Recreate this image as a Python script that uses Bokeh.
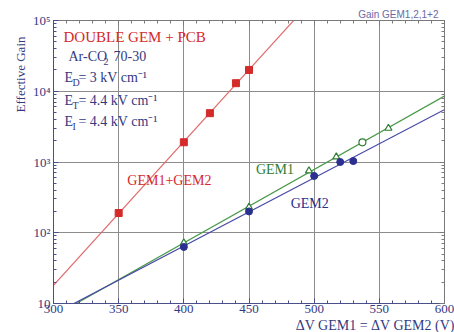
import numpy as np
from bokeh.plotting import figure
from bokeh.models import (Label, LogAxis, LinearAxis, SingleIntervalTicker, LogTicker,
                          CustomJSTickFormatter, Range1d, Title)
from bokeh.embed import file_html
from bokeh.resources import INLINE

# ---------------- data ----------------
gem12_dv = [350, 400, 420, 440, 450]
gem12_gain = [190, 1900, 4900, 13000, 20000]

gem1_dv = [400, 450, 496, 517, 537, 557]
gem1_gain = [72, 230, 750, 1180, 1900, 3000]
gem1_marker = ["triangle", "triangle", "triangle", "triangle", "circle", "triangle"]

gem2_dv = [400, 450, 500, 520, 530]
gem2_gain = [63, 200, 635, 1000, 1030]

x_tick_values = [300, 350, 400, 450, 500, 550, 600]
y_tick_values = [10, 100, 1000, 10000, 100000]

SERIF = "Liberation Serif"
NAVY = "#33397f"
RED = "#d42a2a"
GREEN = "#2f7d35"
BLUE = "#2b2f8f"


def fit_line(v, g):
    slope, icpt = np.polyfit(np.array(v, float), np.log10(np.array(g, float)), 1)
    vv = np.array([280.0, 620.0])
    return vv, 10 ** (icpt + slope * vv)


p = figure(width=454, height=332, x_range=Range1d(300, 600), y_range=Range1d(10, 1e5),
           y_axis_type="log", output_backend="svg", toolbar_location=None,
           min_border_left=53, min_border_right=10, min_border_top=20, min_border_bottom=14,
           background_fill_color="white", border_fill_color="white")
p.outline_line_color = "#7a7a7a"

xt = SingleIntervalTicker(interval=50, num_minor_ticks=5)
yt = LogTicker(num_minor_ticks=10)
p.xaxis.ticker = xt
p.yaxis.ticker = yt
p.yaxis.formatter = CustomJSTickFormatter(code="""
const e = Math.round(Math.log10(tick));
const s = {1:'', 2:'\u00b2', 3:'\u00b3', 4:'\u2074', 5:'\u2075'};
return e == 1 ? '10' : '10' + s[e];
""")

for ax in (p.xaxis[0], p.yaxis[0]):
    ax.major_tick_in = 5
    ax.major_tick_out = 0
    ax.minor_tick_in = 3
    ax.minor_tick_out = 0
    ax.axis_line_color = "#4a4f8a"
    ax.major_tick_line_color = "#4a4f8a"
    ax.minor_tick_line_color = "#4a4f8a"
    ax.major_label_text_font = SERIF
    ax.major_label_text_color = NAVY
p.xaxis.major_label_text_font_size = "13px"
p.yaxis.major_label_text_font_size = "13px"
p.xaxis.major_label_standoff = 1
p.yaxis.major_label_standoff = 3

# mirror axes (ticks only, no labels)
blank = CustomJSTickFormatter(code="return '';")
ra = LogAxis(ticker=yt, formatter=blank, major_label_text_color=None, major_tick_in=5,
             major_tick_out=0, minor_tick_in=3, minor_tick_out=0, axis_line_color="#7a7a7a",
             major_tick_line_color="#7a7a7a", minor_tick_line_color="#7a7a7a",
             major_label_standoff=0)
ta = LinearAxis(ticker=xt, formatter=blank, major_label_text_color=None, major_tick_in=5,
                major_tick_out=0, minor_tick_in=3, minor_tick_out=0, axis_line_color="#7a7a7a",
                major_tick_line_color="#7a7a7a", minor_tick_line_color="#7a7a7a",
                major_label_standoff=0)
p.add_layout(ra, "right")
p.add_layout(ta, "above")

p.xgrid.ticker = xt
p.ygrid.ticker = yt
p.xgrid.grid_line_color = "#8c8c8c"
p.ygrid.grid_line_color = "#8c8c8c"

# top-right caption, y-axis title and x-axis title as Titles in the side panels
p.title.text = "Gain GEM1,2,1+2"
p.title.align = "right"
p.title.offset = 6
p.title.standoff = 1
p.title.text_font = "Liberation Sans"
p.title.text_font_size = "10px"
p.title.text_font_style = "normal"
p.title.text_color = "#6a6aa6"

p.add_layout(Title(text="Effective Gain", align="right", offset=16, standoff=3,
                   text_font=SERIF, text_font_size="13px", text_font_style="normal",
                   text_color=NAVY), "left")
p.add_layout(Title(text="\u0394V GEM1 = \u0394V GEM2  (V)", align="right", offset=-14,
                   standoff=0, text_font=SERIF, text_font_size="14px",
                   text_font_style="normal", text_color=NAVY), "below")

# fit lines
vv, gg = fit_line(gem12_dv, gem12_gain)
p.line(vv, gg, line_color="#e06a6a", line_width=1.2)
vv, gg = fit_line(gem1_dv, gem1_gain)
p.line(vv, gg, line_color="#4a9a4a", line_width=1.2)
vv, gg = fit_line(gem2_dv, gem2_gain)
p.line(vv, gg, line_color="#4848a8", line_width=1.2)

# markers
p.scatter(gem12_dv, gem12_gain, marker="square", size=7, fill_color=RED, line_color=RED)
p.scatter(gem1_dv, gem1_gain, marker=gem1_marker, size=7, fill_color="white", line_color=GREEN,
          line_width=1.2)
p.scatter(gem2_dv, gem2_gain, marker="circle", size=7, fill_color=BLUE, line_color=BLUE)


def lab(fig, x, y, text, size, color, font=SERIF, xo=0, yo=0, baseline="middle",
        align="left", **kw):
    fig.add_layout(Label(x=x, y=y, text=text, text_font=font, text_font_size=size,
                         text_color=color, x_offset=xo, y_offset=yo,
                         text_baseline=baseline, text_align=align, **kw))


# texts inside the plot (data coordinates)
lab(p, 307.7, 58000, "DOUBLE GEM + PCB", "15px", RED)
lab(p, 311.5, 31400, "Ar-CO", "14px", NAVY)
lab(p, 311.5, 31400, "2", "10px", NAVY, xo=35, yo=-5)
lab(p, 311.5, 31400, "70-30", "14px", NAVY, xo=45)

for yv, sub, rest in [(15400, "D", "= 3 kV cm\u207b\u00b9"),
                      (7330, "T", "= 4.4 kV cm\u207b\u00b9"),
                      (3715, "I", " = 4.4 kV cm\u207b\u00b9")]:
    lab(p, 308.4, yv, "E", "14px", NAVY)
    lab(p, 308.4, yv, sub, "10px", NAVY, xo=8, yo=-5)
    lab(p, 308.4, yv, rest, "14px", NAVY, xo=14)

lab(p, 356.6, 552, "GEM1+GEM2", "14px", RED)
lab(p, 455.3, 787, "GEM1", "14px", GREEN)
lab(p, 482.0, 262, "GEM2", "14px", BLUE)

open("out.html", "w").write(file_html(p, INLINE))
